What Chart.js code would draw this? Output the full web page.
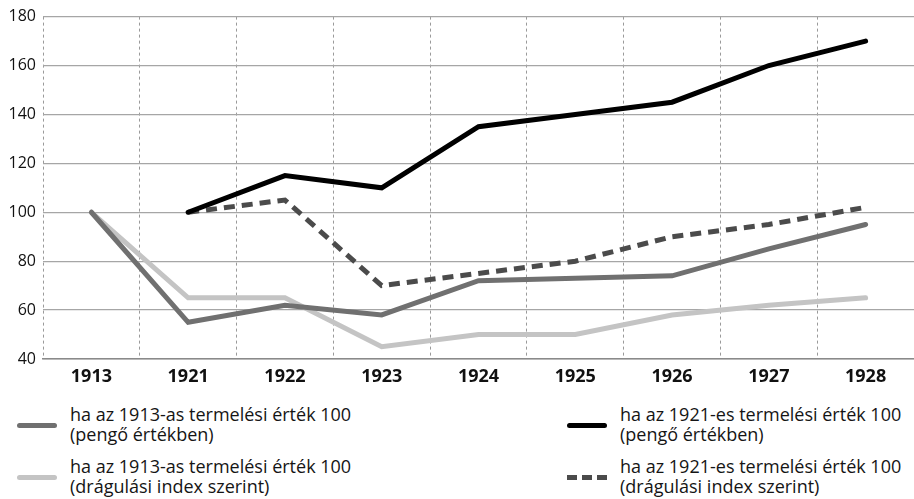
<!DOCTYPE html>
<html lang="hu">
<head>
  <meta charset="UTF-8">
  <title>Termelési érték</title>
  <script src="https://cdn.jsdelivr.net/npm/chart.js"></script>
  <style>
    body {
      margin: 0;
      width: 914px;
      height: 499px;
      background: #fff;
      font-family: "Open Sans", sans-serif;
      position: relative;
      overflow: hidden;
    }

    #wrap {
      position: absolute;
      left: 0;
      top: 0;
      width: 914px;
      height: 395px;
    }

    .leg {
      position: absolute;
      font-size: 18px;
      line-height: 20px;
      color: #151515;
      white-space: nowrap;
    }

    .leg .sw {
      position: absolute;
      left: -53px;
      top: 18.5px;
      width: 40px;
      height: 0;
      border-top: 5px solid #000;
      border-radius: 3px;
    }
  </style>
</head>
<body>
  <div id="wrap"><canvas id="grafikon" width="914" height="395"></canvas></div>
  <div id="legenda"></div>

  <script>
    const evek = ['1913', '1921', '1922', '1923', '1924', '1925', '1926', '1927', '1928'];
    const yTicks = [40, 60, 80, 100, 120, 140, 160, 180];

    const cimkek = [
      ['ha az 1913-as termelési érték 100', '(pengő értékben)'],
      ['ha az 1913-as termelési érték 100', '(drágulási index szerint)'],
      ['ha az 1921-es termelési érték 100', '(pengő értékben)'],
      ['ha az 1921-es termelési érték 100', '(drágulási index szerint)']
    ];

    const pengo1913 = [100, 55, 62, 58, 72, 73, 74, 85, 95];
    const dragulas1913 = [100, 65, 65, 45, 50, 50, 58, 62, 65];
    const pengo1921 = [null, 100, 115, 110, 135, 140, 145, 160, 170];
    const dragulas1921 = [null, 100, 105, 70, 75, 80, 90, 95, 102];

    const stilusok = [
      { color: '#707070', dash: [], order: 3 },
      { color: '#c4c4c4', dash: [], order: 4 },
      { color: '#000000', dash: [], order: 1 },
      { color: '#4b4b4b', dash: [11, 7], order: 2 }
    ];
    const adatok = [pengo1913, dragulas1913, pengo1921, dragulas1921];

    const datasets = adatok.map((d, i) => ({
      label: cimkek[i].join(' '),
      data: d,
      borderColor: stilusok[i].color,
      borderWidth: 5,
      borderDash: stilusok[i].dash,
      borderCapStyle: stilusok[i].dash.length ? 'butt' : 'round',
      borderJoinStyle: 'miter',
      pointRadius: 0,
      pointHoverRadius: 0,
      fill: false,
      tension: 0,
      order: stilusok[i].order
    }));

    let ctx = document.getElementById('grafikon').getContext('2d');
    let grafikon = new Chart(ctx, {
      type: 'line',
      data: { labels: evek, datasets: datasets },
      options: {
        responsive: false,
        animation: false,
        layout: { padding: { top: 12, right: 0, left: 0, bottom: 0 } },
        plugins: { legend: { display: false }, tooltip: { enabled: false } },
        scales: {
          x: {
            offset: true,
            grid: {
              offset: true,
              color: '#9a9a9a',
              lineWidth: 1,
              drawTicks: false
            },
            border: { display: true, color: '#8a8a8a', width: 1.5, dash: [3, 3] },
            ticks: {
              color: '#111',
              padding: 7,
              maxRotation: 0,
              font: { family: 'Open Sans', size: 18, weight: 'bold' }
            },
            afterFit: s => { s.height = 36; }
          },
          y: {
            min: 40,
            max: 180,
            afterBuildTicks: s => { s.ticks = yTicks.map(v => ({ value: v })); },
            grid: { color: '#a6a6a6', lineWidth: 1.2, drawTicks: false },
            border: { display: false },
            ticks: {
              color: '#111',
              padding: 7,
              font: { family: 'Open Sans', size: 16 }
            },
            afterFit: s => { s.width = 43; }
          }
        }
      }
    });

    // legenda ket oszlopban
    const helyek = [[70, 404], [70, 456], [620, 404], [620, 456]];
    const leg = document.getElementById('legenda');
    cimkek.forEach((c, i) => {
      const el = document.createElement('div');
      el.className = 'leg';
      el.style.left = helyek[i][0] + 'px';
      el.style.top = helyek[i][1] + 'px';
      const sw = document.createElement('span');
      sw.className = 'sw';
      if (stilusok[i].dash.length) {
        sw.style.borderTop = '5px dashed ' + stilusok[i].color;
        sw.style.borderRadius = '0';
      } else {
        sw.style.borderTopColor = stilusok[i].color;
      }
      el.appendChild(sw);
      el.appendChild(document.createTextNode(c[0]));
      el.appendChild(document.createElement('br'));
      el.appendChild(document.createTextNode(c[1]));
      leg.appendChild(el);
    });
  </script>
</body>
</html>
